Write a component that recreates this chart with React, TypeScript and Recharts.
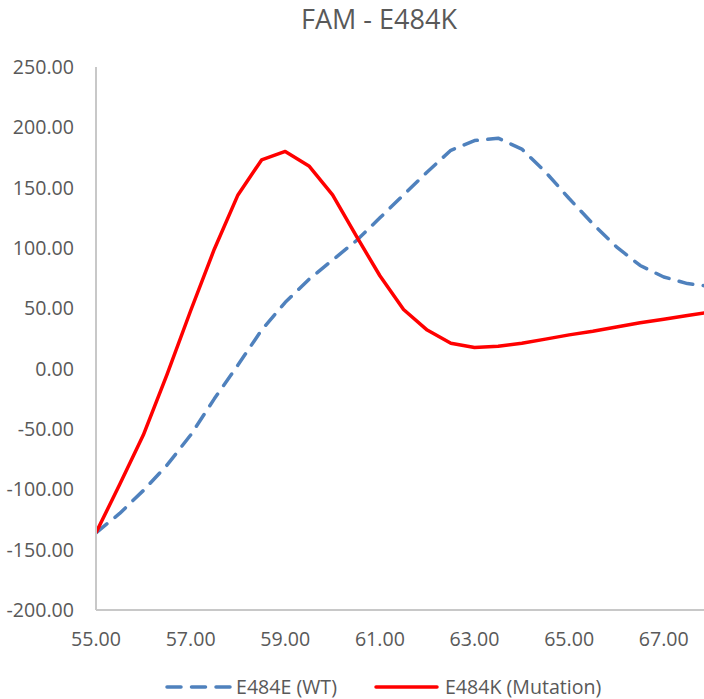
import React from "react";
import { LineChart, Line, XAxis, YAxis, Legend } from "recharts";

const temperatures = [55, 55.5, 56, 56.5, 57, 57.5, 58, 58.5, 59, 59.5, 60, 60.5, 61, 61.5, 62, 62.5, 63, 63.5, 64, 64.5, 65, 65.5, 66, 66.5, 67, 67.5, 68];
const wtValues = [-136, -120, -101, -80, -55, -25, 3, 32, 55, 74, 90, 106, 125, 144, 163, 181, 189, 191, 182, 163, 141, 120, 101, 85.5, 76, 70.5, 68];
const mutValues = [-136, -96, -55, -5, 48, 99, 144, 173, 180, 168, 144, 110, 77, 49, 32, 21, 17.5, 18.5, 21, 24.5, 28, 31, 34.5, 38, 41, 44, 47];
const xTicks = [55, 57, 59, 61, 63, 65, 67];
const yTicks = [-200, -150, -100, -50, 0, 50, 100, 150, 200, 250];
const seriesNames = ["E484E (WT)", "E484K (Mutation)"];
const title = "FAM - E484K";

const data = temperatures.map((x, i) => ({ x, wt: wtValues[i], mut: mutValues[i] }));

const FONT = "'Open Sans', sans-serif";
const TEXT = "#595959";
const BLUE = "#4f81bd";
const RED = "#ff0000";

const LegendContent = () => (
  <div style={{ height: 49, boxSizing: "border-box", paddingTop: 25, paddingLeft: 165, display: "flex", alignItems: "center", fontFamily: FONT, fontSize: 19.6, color: TEXT }}>
    <svg width={67} height={10} style={{ marginRight: 4 }}>
      <line x1={2} y1={5} x2={65} y2={5} stroke={BLUE} strokeWidth={3.5} strokeDasharray="14 10.5" strokeLinecap="round" />
    </svg>
    <span style={{ lineHeight: "24px", marginRight: 37 }}>{seriesNames[0]}</span>
    <svg width={65} height={10} style={{ marginRight: 6 }}>
      <line x1={2} y1={5} x2={63} y2={5} stroke={RED} strokeWidth={3.5} strokeLinecap="round" />
    </svg>
    <span style={{ lineHeight: "24px" }}>{seriesNames[1]}</span>
  </div>
);

export default function App() {
  return (
    <div style={{ position: "absolute", left: 0, top: 0, width: 704, height: 699, background: "#fff" }}>
      <LineChart width={704} height={699} data={data} margin={{ top: 67, right: 0, bottom: 0, left: 0 }}>
        <text x={379} y={29} textAnchor="middle" fontFamily={FONT} fontSize={27} fill={TEXT}>{title}</text>
        <XAxis
          dataKey="x"
          type="number"
          domain={[55, 67.85]}
          allowDataOverflow
          ticks={xTicks}
          tickFormatter={(v: number) => v.toFixed(2)}
          tickLine={false}
          tickSize={0}
          tickMargin={22}
          height={40}
          axisLine={{ stroke: "#c8c8c8", strokeWidth: 2 }}
          tick={{ fill: TEXT, fontSize: 19.6, fontFamily: FONT }}
          interval={0}
        />
        <YAxis
          type="number"
          domain={[-200, 250]}
          ticks={yTicks}
          tickFormatter={(v: number) => v.toFixed(2)}
          tickLine={false}
          tickSize={0}
          tickMargin={22}
          width={96}
          axisLine={{ stroke: "#c8c8c8", strokeWidth: 2 }}
          tick={{ fill: TEXT, fontSize: 19.6, fontFamily: FONT }}
          interval={0}
        />
        <Legend verticalAlign="bottom" height={49} content={<LegendContent />} wrapperStyle={{ height: 49 }} />
        <Line type="linear" dataKey="wt" name={seriesNames[0]} stroke={BLUE} strokeWidth={3.5} strokeDasharray="14 10.5" strokeLinecap="round" strokeLinejoin="round" dot={false} activeDot={false} isAnimationActive={false} />
        <Line type="linear" dataKey="mut" name={seriesNames[1]} stroke={RED} strokeWidth={3.5} strokeLinejoin="round" dot={false} activeDot={false} isAnimationActive={false} />
      </LineChart>
    </div>
  );
}
